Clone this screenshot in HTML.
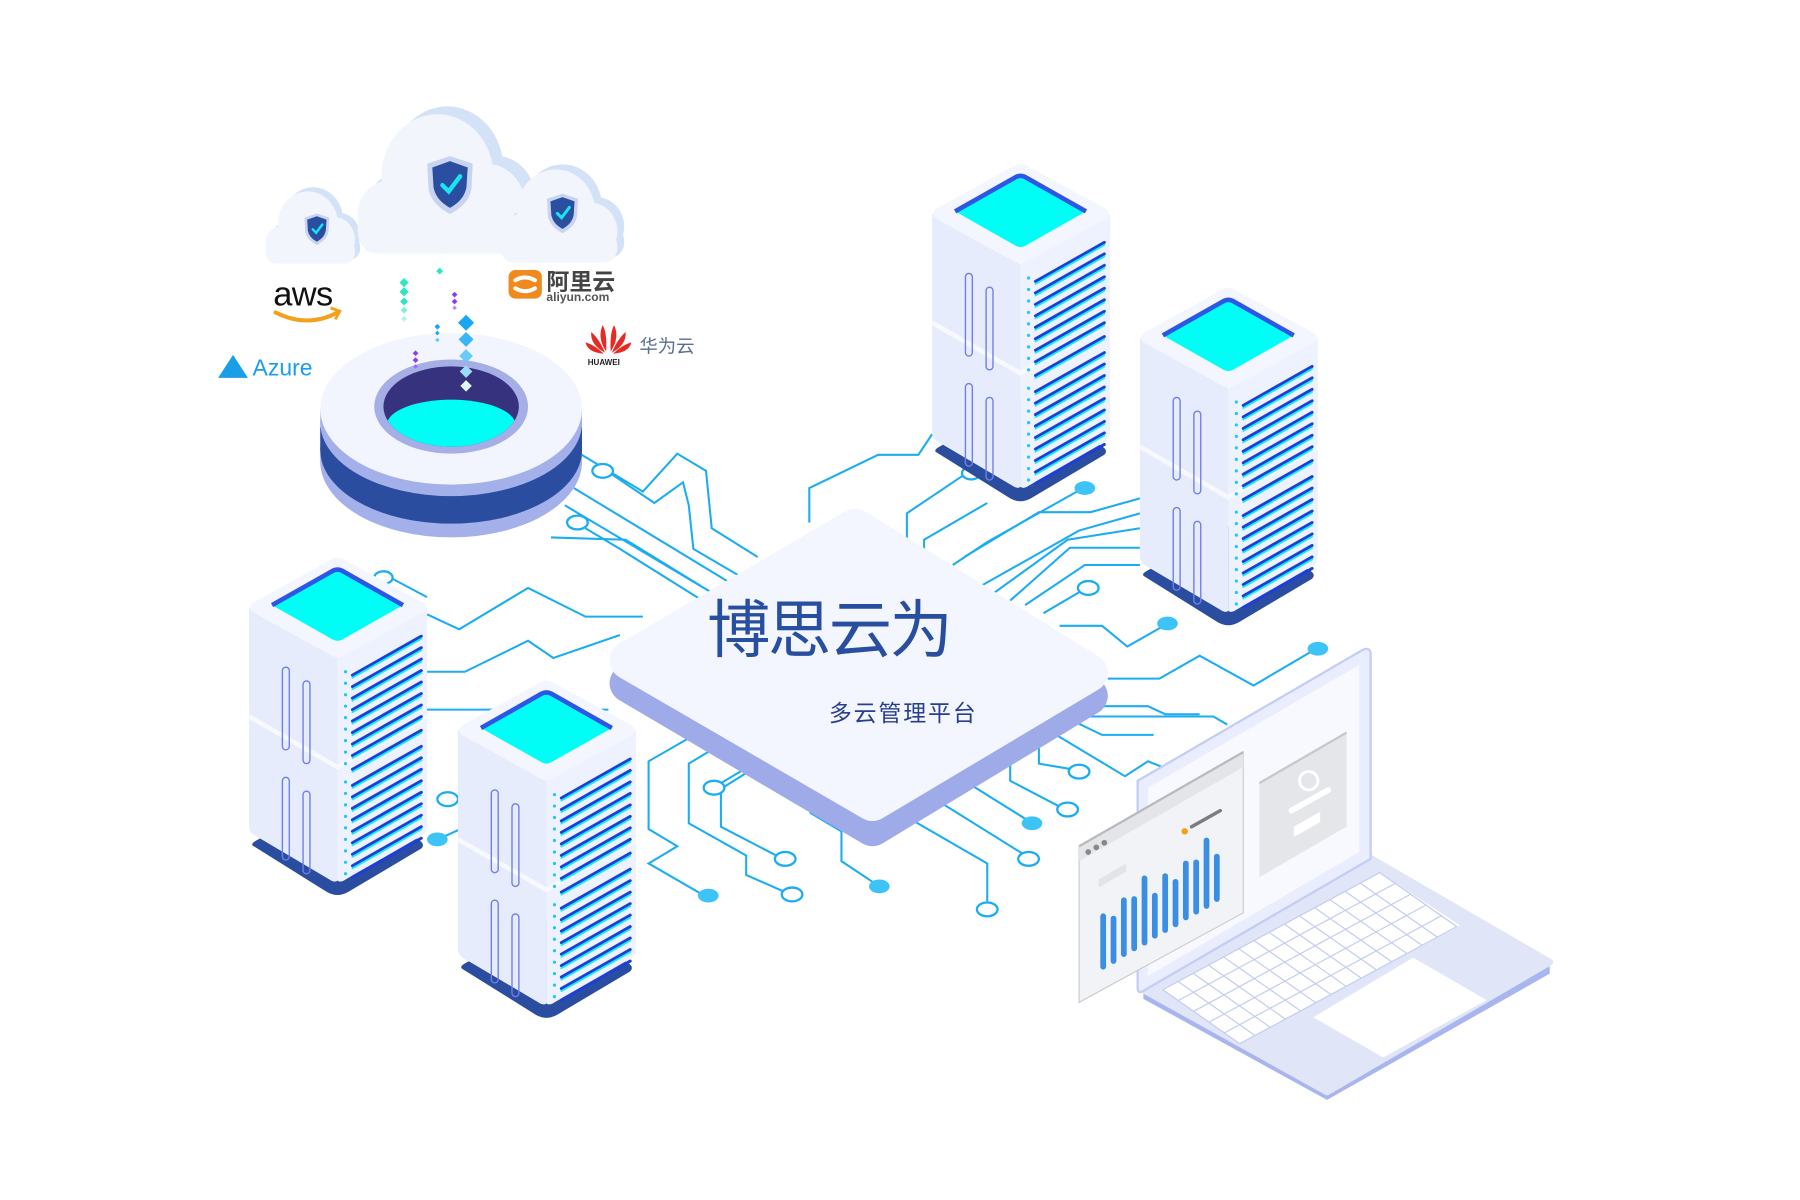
<!DOCTYPE html>
<html><head><meta charset="utf-8"><style>
html,body{margin:0;padding:0;background:#fff;width:1800px;height:1200px;overflow:hidden}
svg{display:block}
</style></head><body>
<svg width="1800" height="1200" viewBox="0 0 1568 1045" xmlns="http://www.w3.org/2000/svg">
<defs>
<g id="tower">
  <path d="M4,252 Q0,250 8,246 L72,210 Q77,207 82,210 L147,246 Q154,250 150,254 L86,292 Q77,297 68,292 Z" fill="#2b4da0"/>
  <path d="M0,44 L77,88 L77,282 Q74,284 70,281 L4,242 Q0,240 0,234 Z" fill="#e6ecfc"/>
  <path d="M77,88 L155,44 L155,234 Q155,240 150,243 L84,281 Q80,284 77,282 Z" fill="#eef2fe"/>
  <path d="M0,139 L77,183 L155,139" fill="none" stroke="#f7f9ff" stroke-width="4"/>
  <path d="M3,40 L72,2 Q77,-1 82,2 L152,40 Q156,44 152,48 L82,86 Q77,89 72,86 L3,48 Q-1,44 3,40 Z" fill="#f3f6fe"/>
  <path d="M20,42 L73,12 Q77,10 81,12 L134,42 L81,72 Q77,74 73,72 Z" fill="#00fdf6"/>
  <path d="M20,42 L73,12 Q77,10 81,12 L134,42" fill="none" stroke="#2d55e6" stroke-width="4" stroke-linejoin="round"/>
  <g fill="none" stroke="#6f7fe8" stroke-width="1.2">
    <rect x="29" y="96" width="6" height="72" rx="3"/>
    <rect x="47" y="108" width="6" height="72" rx="3"/>
    <rect x="29" y="192" width="6" height="72" rx="3"/>
    <rect x="47" y="204" width="6" height="72" rx="3"/>
  </g>
  <g fill="#1fc8f5">
    <circle cx="84" cy="100" r="1.4"/><circle cx="84" cy="110" r="1.4"/><circle cx="84" cy="120" r="1.4"/><circle cx="84" cy="130" r="1.4"/><circle cx="84" cy="140" r="1.4"/><circle cx="84" cy="150" r="1.4"/><circle cx="84" cy="160" r="1.4"/><circle cx="84" cy="170" r="1.4"/><circle cx="84" cy="180" r="1.4"/>
    <circle cx="84" cy="196" r="1.4"/><circle cx="84" cy="206" r="1.4"/><circle cx="84" cy="216" r="1.4"/><circle cx="84" cy="226" r="1.4"/><circle cx="84" cy="236" r="1.4"/><circle cx="84" cy="246" r="1.4"/><circle cx="84" cy="256" r="1.4"/><circle cx="84" cy="266" r="1.4"/><circle cx="84" cy="276" r="1.4"/>
  </g>
  <g stroke-linecap="round">
    <g stroke="#1d3fd6" stroke-width="2.6">
      <path d="M90,103 L150,69 M90,113 L150,79 M90,123 L150,89 M90,133 L150,99 M90,143 L150,109 M90,153 L150,119 M90,163 L150,129 M90,173 L150,139 M90,185 L150,151"/>
      <path d="M90,199 L150,165 M90,209 L150,175 M90,219 L150,185 M90,229 L150,195 M90,239 L150,205 M90,249 L150,215 M90,259 L150,225 M90,269 L150,235 M90,279 L150,245"/>
    </g>
    <g stroke="#10f0f2" stroke-width="1.6" transform="translate(0,2.2)">
      <path d="M90,103 L150,69 M90,113 L150,79 M90,123 L150,89 M90,133 L150,99 M90,143 L150,109 M90,153 L150,119 M90,163 L150,129 M90,173 L150,139 M90,185 L150,151"/>
      <path d="M90,199 L150,165 M90,209 L150,175 M90,219 L150,185 M90,229 L150,195 M90,239 L150,205 M90,249 L150,215 M90,259 L150,225 M90,269 L150,235"/>
    </g>
  </g>
</g>
<g id="cloud">
  <g fill="#d3e2f6" transform="translate(7,-5)">
    <circle cx="-30" cy="20" r="22"/><circle cx="5" cy="-5" r="40"/><circle cx="40" cy="15" r="28"/><rect x="-52" y="15" width="120" height="30" rx="14"/>
  </g>
  <g fill="#f2f5fb">
    <circle cx="-30" cy="20" r="22"/><circle cx="5" cy="-5" r="40"/><circle cx="40" cy="15" r="28"/><rect x="-52" y="15" width="120" height="30" rx="14"/>
  </g>
</g>
<g id="shield">
  <path d="M0,-22 L18,-16 L17,4 Q15,16 0,24 Q-15,16 -17,4 L-18,-16 Z" fill="#c9d4f0"/>
  <path d="M0,-18 L14,-13 L13,3 Q11,13 0,19 Q-11,13 -13,3 L-14,-13 Z" fill="#2a4ea0"/>
  <path d="M-6,1 L-1,6 L8,-6" fill="none" stroke="#17e6f0" stroke-width="3.5" stroke-linecap="round"/>
</g>
</defs>

<g fill="none" stroke="#1cacf0" stroke-width="1.8">
  <path d="M505,395 L560,428 L590,395 L615,410 L620,460 L660,485"/>
  <path d="M533,413 L570,438 L595,420 L600,440 L604,478 L645,502"/>
  <path d="M500,425 L640,510"/>
  <path d="M492,440 L630,522"/>
  <path d="M510,460 L540,478 L620,528"/>
  <path d="M480,468 L545,470 L610,510"/>
  <path d="M372,535 L400,548 L460,512 L510,537 L560,537"/>
  <path d="M372,585 L405,585 L460,558 L482,573 L540,553"/>
  <path d="M372,618 L530,618"/>
  <path d="M396,696 L420,684 L440,676 M388,728 L410,718"/>
  <path d="M340,503 L372,520"/>
  <path d="M605,640 L565,663 L565,722 L590,737 L565,752 L610,778"/>
  <path d="M625,650 L600,665 L600,717 L650,745 L650,762 L684,777"/>
  <path d="M628,682 L665,660"/>
  <path d="M660,667 L628,687 L628,720 L678,746"/>
  <path d="M706,690 L706,708 L733,724 L733,750 L760,768"/>
  <path d="M770,700 L860,752 L860,785"/>
  <path d="M805,690 L890,743"/>
  <path d="M840,680 L893,713"/>
  <path d="M880,660 L880,680 L924,703"/>
  <path d="M905,650 L905,665 L934,670"/>
  <path d="M920,640 L980,676 L1000,663 L1025,673"/>
  <path d="M935,628 L960,640 L1005,640"/>
  <path d="M955,615 L1000,615 L1015,622 L1045,622"/>
  <path d="M947,624 L1057,624 L1069,631"/>
  <path d="M923,545 L960,545 L982,563 L1012,546"/>
  <path d="M965,591 L1010,591 L1045,571 L1092,597 L1143,567"/>
  <path d="M705,455 L705,425 L765,396 L800,396 L812,378"/>
  <path d="M839,414 L790,447 L790,470"/>
  <path d="M860,438 L805,470 L805,490"/>
  <path d="M940,427 L860,472 L830,492"/>
  <path d="M993,434 L950,446 L905,446 L840,485"/>
  <path d="M993,447 L940,462 L855,510"/>
  <path d="M993,460 L930,470 L865,517"/>
  <path d="M993,477 L932,477 L880,523"/>
  <path d="M993,492 L945,492 L893,527"/>
  <path d="M943,514 L909,534"/>
</g>
<g fill="#fff" stroke="#1cacf0" stroke-width="2">
  <ellipse cx="525" cy="410" rx="9" ry="6"/><ellipse cx="503" cy="455" rx="9" ry="6"/><ellipse cx="334" cy="503" rx="8" ry="5.5"/>
  <ellipse cx="390" cy="696" rx="9" ry="6"/><ellipse cx="622" cy="686" rx="9" ry="6"/><ellipse cx="684" cy="748" rx="9" ry="6"/>
  <ellipse cx="690" cy="779" rx="9" ry="6"/><ellipse cx="860" cy="792" rx="9" ry="6"/><ellipse cx="896" cy="748" rx="9" ry="6"/>
  <ellipse cx="930" cy="705" rx="9" ry="6"/><ellipse cx="940" cy="672" rx="9" ry="6"/><ellipse cx="948" cy="512" rx="9" ry="6"/>
  <ellipse cx="846" cy="412" rx="8" ry="5.5"/>
</g>
<g fill="#3ec3f7">
  <ellipse cx="617" cy="780" rx="9" ry="6"/><ellipse cx="766" cy="772" rx="9" ry="6"/><ellipse cx="899" cy="717" rx="9" ry="6"/>
  <ellipse cx="381" cy="731" rx="9" ry="6"/><ellipse cx="1017" cy="543" rx="9" ry="6"/><ellipse cx="1148" cy="565" rx="9" ry="6"/>
  <ellipse cx="945" cy="425" rx="9" ry="6"/>
</g>

<g stroke-linejoin="round">
  <path d="M548,595 L745,476 L948,606 L760,720 Z" fill="#9eabe8" stroke="#9eabe8" stroke-width="34"/>
  <path d="M548,575 L745,460 L948,586 L760,698 Z" fill="#f3f6fe" stroke="#f3f6fe" stroke-width="34"/>
</g>
<text x="616" y="568" font-family="'Liberation Sans','Noto Sans CJK SC',sans-serif" font-size="55" fill="#284ea0" textLength="214">博思云为</text>
<text x="722" y="628" font-family="'Liberation Sans','Noto Sans CJK SC',sans-serif" font-size="20" fill="#2a3f8c" textLength="128">多云管理平台</text>

<g>
  <ellipse cx="393" cy="402" rx="114" ry="66" fill="#a4b0ea"/>
  <rect x="279" y="356" width="228" height="46" fill="#a4b0ea"/>
  <ellipse cx="393" cy="392" rx="114" ry="64" fill="#2b4da0"/>
  <rect x="279" y="372" width="228" height="20" fill="#2b4da0"/>
  <ellipse cx="393" cy="368" rx="114" ry="64" fill="#a4b0ea"/>
  <ellipse cx="393" cy="356" rx="114" ry="66" fill="#f3f5fe"/>
  <ellipse cx="393" cy="354" rx="67" ry="41" fill="#a5afe6"/>
  <ellipse cx="393" cy="354" rx="59" ry="35" fill="#36327e"/>
  <clipPath id="hole"><ellipse cx="393" cy="354" rx="59" ry="35"/></clipPath>
  <ellipse cx="393" cy="370" rx="56" ry="22" fill="#00fdf6" clip-path="url(#hole)"/>
</g>
<g>
  <g fill="#2ee6c0"><path d="M352,242 l4,4 -4,4 -4,-4z"/><path d="M352,250 l4,4 -4,4 -4,-4z"/><path d="M352,259 l3.5,3.5 -3.5,3.5 -3.5,-3.5z"/><path d="M352,267 l3,3 -3,3 -3,-3z" opacity=".6"/><path d="M352,275 l2.5,2.5 -2.5,2.5 -2.5,-2.5z" opacity=".4"/><path d="M383,233 l3,3 -3,3 -3,-3z"/></g>
  <g fill="#8a3cf0"><path d="M396,254 l2.5,2.5 -2.5,2.5 -2.5,-2.5z"/><path d="M396,260 l2.5,2.5 -2.5,2.5 -2.5,-2.5z"/><path d="M396,266 l2,2 -2,2 -2,-2z" opacity=".6"/><path d="M362,305 l2.5,2.5 -2.5,2.5 -2.5,-2.5z"/><path d="M362,311 l2.5,2.5 -2.5,2.5 -2.5,-2.5z"/><path d="M362,317 l2,2 -2,2 -2,-2z" opacity=".6"/></g>
  <g fill="#1aa6f2"><path d="M381,282 l2.5,2.5 -2.5,2.5 -2.5,-2.5z"/><path d="M381,288 l2,2 -2,2 -2,-2z"/><path d="M381,294 l2,2 -2,2 -2,-2z" opacity=".6"/>
  <path d="M406,274 l7,7 -7,7 -7,-7z"/><path d="M406,289 l6.5,6.5 -6.5,6.5 -6.5,-6.5z" fill="#3ab6f6"/><path d="M406,304 l6,6 -6,6 -6,-6z" fill="#6ccaf8"/><path d="M406,318 l5.5,5.5 -5.5,5.5 -5.5,-5.5z" fill="#9adcfa"/><path d="M406,331 l5,5 -5,5 -5,-5z" fill="#e6f6ff"/></g>
</g>

<use href="#cloud" transform="translate(265,198) scale(0.65,0.7)"/>
<use href="#cloud" transform="translate(375,160) scale(1.22,1.35)"/>
<use href="#cloud" transform="translate(480,188) scale(0.85,0.9)"/>
<use href="#shield" transform="translate(392,160) scale(1.1)"/>
<use href="#shield" transform="translate(276,199) scale(0.6)"/>
<use href="#shield" transform="translate(490,185) scale(0.75)"/>

<text x="238" y="266" font-family="'Liberation Sans',sans-serif" font-size="30" fill="#111" letter-spacing="-0.5">aws</text>
<path d="M240,272 Q268,286 294,272" fill="none" stroke="#f3a01c" stroke-width="3.5" stroke-linecap="round"/>
<path d="M288,268 L296,271 L292,278" fill="none" stroke="#f3a01c" stroke-width="2.5"/>
<path d="M190,329 L203,309 L216,329 Z" fill="#1a9ee8"/>
<text x="220" y="327" font-family="'Liberation Sans',sans-serif" font-size="20" fill="#1a9ee8">Azure</text>
<rect x="443" y="235" width="29" height="25" rx="6" fill="#f08a1e"/>
<path d="M449,244 Q457,239 466,244 M449,251 Q457,256 466,251" fill="none" stroke="#fff" stroke-width="3.5" stroke-linecap="round"/>
<text x="476" y="252" font-family="'Liberation Sans','Noto Sans CJK SC',sans-serif" font-size="20" font-weight="bold" fill="#444">阿里云</text>
<text x="476" y="262" font-family="'Liberation Sans',sans-serif" font-size="10.5" font-weight="bold" fill="#555">aliyun.com</text>
<g fill="#e52b24" transform="translate(530,300)">
  <path d="M-2,6 Q-10,-6 -5,-17 Q-1,-10 -2,6Z"/><path d="M2,6 Q10,-6 5,-17 Q1,-10 2,6Z"/>
  <path d="M-3,7 Q-16,0 -15,-11 Q-8,-5 -3,7Z"/><path d="M3,7 Q16,0 15,-11 Q8,-5 3,7Z"/>
  <path d="M-4,8 Q-18,7 -20,-2 Q-11,1 -4,8Z"/><path d="M4,8 Q18,7 20,-2 Q11,1 4,8Z"/>
</g>
<text x="512" y="318" font-family="'Liberation Sans',sans-serif" font-size="7" font-weight="bold" fill="#222">HUAWEI</text>
<text x="557" y="307" font-family="'Liberation Sans','Noto Sans CJK SC',sans-serif" font-size="16" fill="#5a6e90">华为云</text>

<use href="#tower" transform="translate(812,142)"/>
<use href="#tower" transform="translate(993,250)"/>
<use href="#tower" transform="translate(217,485)"/>
<use href="#tower" transform="translate(399,592)"/>

<g>
  <path d="M996,865 L1193,750 L1350,842 L1350,848 L1156,958 L996,870 Z" fill="#a9b5ee"/>
  <path d="M996,862 L1193,747 L1350,838 L1156,951 Z" fill="#e0e5f7" stroke="#e0e5f7" stroke-width="6" stroke-linejoin="round"/>
  <path d="M1144,886 L1231,834 L1295,871 L1205,921 Z" fill="#fff"/>
  <path d="M1013,862 L1202,760 L1272,806 L1080,909 Z" fill="#fff"/>
  <g transform="matrix(189,-102,67,47,1013,862)" fill="none" stroke="#c3cdf0" stroke-width="1.2">
    <path vector-effect="non-scaling-stroke" d="M0,0.2 L1,0.2 M0,0.4 L1,0.4 M0,0.6 L1,0.6 M0,0.8 L1,0.8 M0.07,0 V1 M0.14,0 V1 M0.21,0 V1 M0.28,0 V1 M0.35,0 V1 M0.42,0 V1 M0.49,0 V1 M0.56,0 V1 M0.63,0 V1 M0.70,0 V1 M0.77,0 V1 M0.84,0 V1 M0.91,0 V1 M0,0 H1 V1 H0 Z"/>
  </g>
  <path d="M991,680 L1187,566 Q1194,563 1194,570 L1194,748 L996,863 Q991,866 991,860 Z" fill="#e9edfd" stroke="#c5cdf6" stroke-width="2"/>
  <path d="M1000,686 L1184,579 L1184,742 L1000,850 Z" fill="#f8f9fe"/>
  <path d="M1097,682 L1173,638 L1173,720 L1097,764 Z" fill="#e4e6ea"/>
  <path d="M1097,682 L1173,638" stroke="#c6c8cc" stroke-width="2"/>
  <circle cx="1140" cy="680" r="8" fill="#e4e6ea" stroke="#fff" stroke-width="2.5"/>
  <path d="M1125,706 L1157,688" stroke="#fff" stroke-width="5" stroke-linecap="round"/>
  <path d="M1127,720 L1150,707 L1150,716 L1127,729 Z" fill="#fff"/>
  <path d="M940,737 L1083,655 L1083,795 L940,873 Z" fill="#f1f3f6" stroke="#c9cbce" stroke-width="1"/>
  <path d="M940,737 L1083,655 L1083,668 L940,750 Z" fill="#e3e5e8"/>
  <path d="M940,737 L1083,655" stroke="#b8babd" stroke-width="2"/>
  <circle cx="948" cy="742" r="2.5" fill="#888"/><circle cx="955" cy="738" r="2.5" fill="#888"/><circle cx="962" cy="734" r="2.5" fill="#888"/>
  <circle cx="1032" cy="724" r="2.8" fill="#f3a01c"/>
  <path d="M1038,720 L1063,706" stroke="#7a7c80" stroke-width="3" stroke-linecap="round"/>
  <path d="M957,766 L981,752 L981,759 L957,773 Z" fill="#e2e4e7"/>
  <g stroke="#3b8fe2" stroke-width="5" stroke-linecap="round">
    <path d="M961,842 v-44 M970,837 v-37 M979,831 v-47 M988,826 v-43 M997,821 v-56 M1006,815 v-35 M1015,810 v-47 M1024,805 v-37 M1033,799 v-47 M1042,794 v-43 M1051,789 v-57 M1060,783 v-37"/>
  </g>
</g>
</svg>
</body></html>
